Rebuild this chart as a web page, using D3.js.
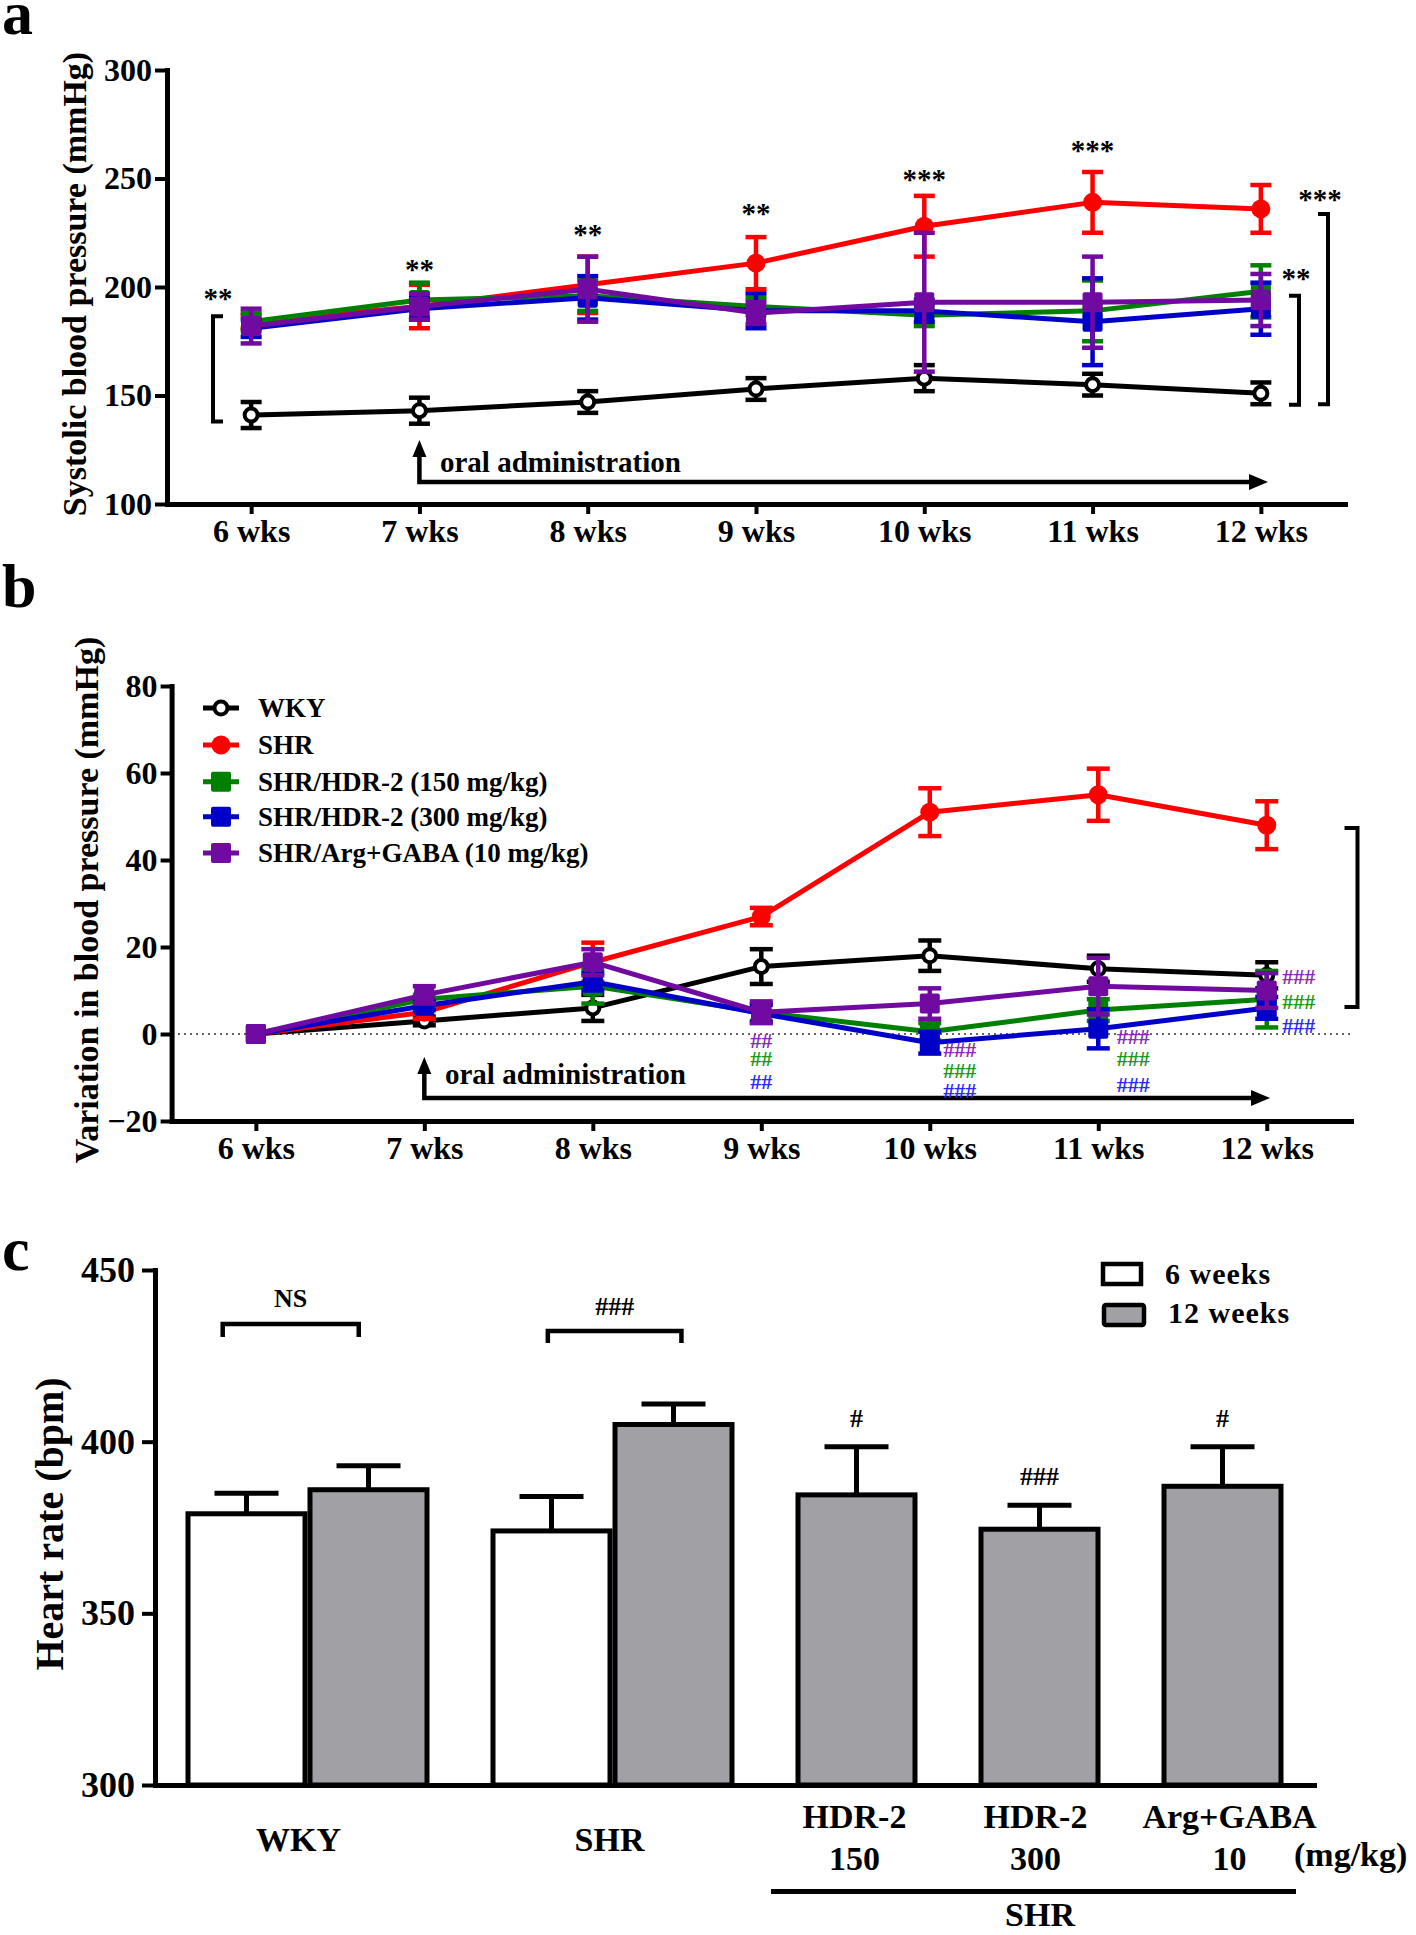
<!DOCTYPE html>
<html><head><meta charset="utf-8">
<script src="https://cdn.jsdelivr.net/npm/d3@7"></script>
<style>
body{margin:0;background:#fff}
svg{display:block}
text{font-family:"Liberation Serif","Times New Roman",serif;font-weight:bold;fill:#000}
</style>
</head><body><script>
// ---------------- DATA ----------------
const weeks = ["6 wks","7 wks","8 wks","9 wks","10 wks","11 wks","12 wks"];
const seriesNames = ["WKY","SHR","SHR/HDR-2 (150 mg/kg)","SHR/HDR-2 (300 mg/kg)","SHR/Arg+GABA (10 mg/kg)"];
const seriesColors = ["#000000","#ff0000","#008000","#0000c8","#700aa0"];
const seriesMarkers = ["open","circle","square","square","square"];

// Panel a: systolic blood pressure (mmHg)
const sbpWKY     = [141,143,147,153,158,155,151];
const sbpWKYErr  = [6,6,5,5,6,5,5];
const sbpSHR     = [184,191,201,211,228,239,236];
const sbpSHRErr  = [3,10,13,12,14,14,11];
const sbp150     = [184,194,196,191,187,189,198];
const sbp150Err  = [4,8,7,4,5,14,12];
const sbp300     = [181,190,195,189,189,184,190];
const sbp300Err  = [4,5,10,8,5,20,12];
const sbpArg     = [182,191,199,188,193,193,194];
const sbpArgErr  = [8,6,15,5,32,21,12];
const sbpTicks   = [100,150,200,250,300];
const sbpSig     = ["**","**","**","**","***","***"];   // 6..11 wks
const sbpSigY    = [196.5,209.7,225.8,235.5,251.2,264.5];

// Panel b: variation in blood pressure (mmHg)
const varWKY     = [0,3,6,15.5,18,15,13.5];
const varWKYErr  = [0,1,3,4,3.5,3,3];
const varSHR     = [0,5,16.5,27,51,55,48];
const varSHRErr  = [0,1.5,4.5,2,5.5,6,5.5];
const var150     = [0,8,11,5,0.5,5.5,8];
const var150Err  = [0,1,4,2,2,2.5,6.5];
const var300     = [0,6.5,12,4.7,-2,1.2,6];
const var300Err  = [0,1,2,2,2.5,4.5,2.5];
const varArg     = [0,9,16.5,5,7,11,10];
const varArgErr  = [0,2,3,2.5,3.5,6.5,4];
const varTicks   = [-20,0,20,40,60,80];
// hash marks (weeks 9..12) for Arg+GABA, 150, 300
const hashLabels = ["##","###","###","###"];
const hashYArg   = [-1.6,-3.7,-0.6,13.1];
const hashY150   = [-5.7,-8.5,-5.8,7.4];
const hashY300   = [-11,-13.1,-11.7,1.8];

// Panel c: heart rate (bpm)
const hrGroups   = [["WKY"],["SHR"],["HDR-2","150"],["HDR-2","300"],["Arg+GABA","10"]];
const hr6        = [379,374,null,null,null];
const hr6Err     = [6,10,null,null,null];
const hr12       = [386,405,384.5,374.5,387];
const hr12Err    = [7,6,14,7,11.5];
const hrSig      = ["NS","###","#","###","#"];
const hrTicks    = [300,350,400,450];
const hrLegend   = ["6 weeks","12 weeks"];

// ---------------- SETUP ----------------
const FONT = '"Liberation Serif","Times New Roman",serif';
const svg = d3.select("body").append("svg").attr("width",1416).attr("height",1935);
svg.append("rect").attr("width",1416).attr("height",1935).attr("fill","#fff");

function styleAxis(g, fs){
  g.attr("font-family",FONT).attr("font-size",fs).attr("font-weight","bold");
  g.select(".domain").attr("stroke","#000").attr("stroke-width",5).attr("stroke-linecap","square");
  g.selectAll(".tick line").attr("stroke","#000").attr("stroke-width",4);
  g.selectAll(".tick text").attr("fill","#000");
}

function drawSeries(g, x, y, vals, errs, color, marker, capW){
  const pts = weeks.map((w,i)=>({w, v:vals[i], e:errs[i]}));
  g.append("path").datum(pts)
    .attr("fill","none").attr("stroke",color).attr("stroke-width",5).attr("stroke-linejoin","round")
    .attr("d", d3.line().x(d=>x(d.w)).y(d=>y(d.v)));
  const eb = g.append("g").attr("stroke",color).attr("stroke-width",4.5);
  pts.filter(d=>d.e>0).forEach(d=>{
    eb.append("line").attr("x1",x(d.w)).attr("x2",x(d.w)).attr("y1",y(d.v-d.e)).attr("y2",y(d.v+d.e));
    [d.v-d.e,d.v+d.e].forEach(vv=>eb.append("line").attr("x1",x(d.w)-capW/2).attr("x2",x(d.w)+capW/2).attr("y1",y(vv)).attr("y2",y(vv)));
  });
  pts.forEach(d=>drawMarker(g, x(d.w), y(d.v), color, marker));
}
function drawMarker(g, cx, cy, color, marker){
  if(marker==="open") g.append("circle").attr("cx",cx).attr("cy",cy).attr("r",6.5).attr("fill","#fff").attr("stroke",color).attr("stroke-width",4);
  else if(marker==="circle") g.append("circle").attr("cx",cx).attr("cy",cy).attr("r",9.5).attr("fill",color);
  else g.append("rect").attr("x",cx-10).attr("y",cy-10).attr("width",20).attr("height",20).attr("rx",2).attr("fill",color);
}
function arrowHead(g, x, y, dir){
  const p = dir==="up" ? [[x,y],[x-7,y+17],[x+7,y+17]] : [[x,y],[x-19,y-8],[x-19,y+8]];
  g.append("path").attr("d","M"+p.map(q=>q.join(",")).join("L")+"Z").attr("fill","#000");
}
function bracket(g, x, y1, y2, tick){
  g.append("path").attr("d",`M${x+tick},${y1}H${x}V${y2}H${x+tick}`)
    .attr("fill","none").attr("stroke","#000").attr("stroke-width",4);
}

// ---------------- PANEL A ----------------
const gA = svg.append("g");
const xA = d3.scalePoint().domain(weeks).range([167,1345]).padding(0.5);
const yA = d3.scaleLinear().domain([100,300]).range([504,70]);
gA.append("text").attr("x",2).attr("y",34).attr("font-size",62).text("a");
gA.append("g").attr("transform","translate(167,0)")
  .call(d3.axisLeft(yA).tickValues(sbpTicks).tickSize(12).tickSizeOuter(0).tickPadding(3))
  .call(g=>styleAxis(g,32));
gA.append("g").attr("transform","translate(0,504)")
  .call(d3.axisBottom(xA).tickSize(10).tickSizeOuter(0).tickPadding(5))
  .call(g=>styleAxis(g,32));
gA.append("text").attr("transform","translate(86,284) rotate(-90)").attr("text-anchor","middle")
  .attr("font-size",34).text("Systolic blood pressure (mmHg)");

gA.append("path").attr("d",`M${xA("7 wks")},450V482H1250`).attr("fill","none").attr("stroke","#000").attr("stroke-width",4.5);
arrowHead(gA, xA("7 wks"), 440, "up");
arrowHead(gA, 1268, 482, "right");
gA.append("text").attr("x",440).attr("y",472).attr("font-size",29).text("oral administration");

const sbpSets = [[sbpWKY,sbpWKYErr],[sbpSHR,sbpSHRErr],[sbp150,sbp150Err],[sbp300,sbp300Err],[sbpArg,sbpArgErr]];
sbpSets.forEach((s,i)=>drawSeries(gA, xA, yA, s[0], s[1], seriesColors[i], seriesMarkers[i], 21));

sbpSig.forEach((t,i)=>{
  const xx = i===0 ? 218 : xA(weeks[i]);
  gA.append("text").attr("x",xx).attr("y",yA(sbpSigY[i])+13).attr("text-anchor","middle")
    .attr("font-size",29).attr("font-weight","normal").text(t);
});
bracket(gA, 213, yA(186.5), yA(138), 10);
bracket(gA, 1299, yA(196), yA(145.7), -10);
bracket(gA, 1328, yA(233.6), yA(146), -10);
gA.append("text").attr("x",1296).attr("y",275+13).attr("text-anchor","middle").attr("font-size",29).attr("font-weight","normal").text("**");
gA.append("text").attr("x",1320).attr("y",196+13).attr("text-anchor","middle").attr("font-size",29).attr("font-weight","normal").text("***");

// ---------------- PANEL B ----------------
const gB = svg.append("g");
const xB = d3.scalePoint().domain(weeks).range([171.6,1351]).padding(0.5);
const yB = d3.scaleLinear().domain([-20,80]).range([1121,686]);
gB.append("text").attr("x",2).attr("y",607).attr("font-size",62).text("b");
gB.append("line").attr("x1",172).attr("x2",1351).attr("y1",yB(0)).attr("y2",yB(0))
  .attr("stroke","#333").attr("stroke-width",1.6).attr("stroke-dasharray","2,4");
gB.append("g").attr("transform","translate(171.6,0)")
  .call(d3.axisLeft(yB).tickValues(varTicks).tickSize(11).tickSizeOuter(0).tickPadding(3))
  .call(g=>styleAxis(g,32));
gB.append("g").attr("transform","translate(0,1121)")
  .call(d3.axisBottom(xB).tickSize(10).tickSizeOuter(0).tickPadding(5))
  .call(g=>styleAxis(g,32));
gB.append("text").attr("transform","translate(98,900) rotate(-90)").attr("text-anchor","middle")
  .attr("font-size",34).text("Variation in blood pressure (mmHg)");

gB.append("path").attr("d",`M${xB("7 wks")},1067V1098H1252`).attr("fill","none").attr("stroke","#000").attr("stroke-width",4.5);
arrowHead(gB, xB("7 wks"), 1057, "up");
arrowHead(gB, 1270, 1098, "right");
gB.append("text").attr("x",445).attr("y",1084).attr("font-size",29).text("oral administration");

const varSets = [[varWKY,varWKYErr],[varSHR,varSHRErr],[var150,var150Err],[var300,var300Err],[varArg,varArgErr]];
varSets.forEach((s,i)=>drawSeries(gB, xB, yB, s[0], s[1], seriesColors[i], seriesMarkers[i], 23));

const hashOffsets = [0,30,35,32];
[[hashYArg,"#8a2ab8"],[hashY150,"#1a9a1a"],[hashY300,"#2a2aff"]].forEach(([arr,col])=>{
  arr.forEach((v,j)=>{
    gB.append("text").attr("x",xB(weeks[j+3])+hashOffsets[j]).attr("y",yB(v)+7)
      .attr("text-anchor","middle").attr("font-size",22).attr("font-weight","normal")
      .style("fill",col).text(hashLabels[j]);
  });
});
bracket(gB, 1357.5, 828, 1007, -13);

const legY = [708,745,781.7,816.7,853];
seriesNames.forEach((n,i)=>{
  gB.append("line").attr("x1",203).attr("x2",239).attr("y1",legY[i]).attr("y2",legY[i])
    .attr("stroke",seriesColors[i]).attr("stroke-width",5);
  drawMarker(gB, 221, legY[i], seriesColors[i], seriesMarkers[i]);
  gB.append("text").attr("x",258).attr("y",legY[i]+9).attr("font-size",27).text(n);
});

// ---------------- PANEL C ----------------
const gC = svg.append("g");
const yC = d3.scaleLinear().domain([300,450]).range([1785,1270]);
const xC = d3.scaleLinear().domain([-0.5,18.5]).range([155,1314]);
gC.append("text").attr("x",2).attr("y",1270).attr("font-size",62).text("c");

const bars = [];
let u = 0;
hrGroups.forEach((gname,i)=>{
  const start = u;
  if(hr6[i]!=null){ bars.push({g:i,s:0,v:hr6[i],e:hr6Err[i],x0:u}); u+=2; }
  bars.push({g:i,s:1,v:hr12[i],e:hr12Err[i],x0:u}); u+=2;
  hrGroups[i].center = (start+u)/2;
  u+=1;
});
const barG = gC.append("g");
bars.forEach(b=>{
  const x0 = xC(b.x0), x1 = xC(b.x0+2), cx=(x0+x1)/2;
  barG.append("line").attr("x1",cx).attr("x2",cx).attr("y1",yC(b.v)).attr("y2",yC(b.v+b.e)).attr("stroke","#000").attr("stroke-width",5);
  barG.append("line").attr("x1",cx-32).attr("x2",cx+32).attr("y1",yC(b.v+b.e)).attr("y2",yC(b.v+b.e)).attr("stroke","#000").attr("stroke-width",5);
  barG.append("rect").attr("x",x0+2.5).attr("y",yC(b.v)).attr("width",x1-x0-5).attr("height",yC(300)-yC(b.v))
    .attr("fill", b.s===0 ? "#ffffff" : "#a1a1a5").attr("stroke","#000").attr("stroke-width",5);
});
gC.append("g").attr("transform","translate(155,0)")
  .call(d3.axisLeft(yC).tickValues(hrTicks).tickSize(13).tickSizeOuter(0).tickPadding(7))
  .call(g=>styleAxis(g,36));
gC.append("g").attr("transform","translate(0,1785)")
  .call(d3.axisBottom(xC).tickValues([]).tickSizeOuter(0))
  .call(g=>styleAxis(g,32));
gC.append("text").attr("transform","translate(63,1524) rotate(-90)").attr("text-anchor","middle")
  .attr("font-size",40).text("Heart rate (bpm)");

const labOff = [-9,-3,-2,-4,7];
hrGroups.forEach((lines,i)=>{
  const cx = xC(lines.center)+labOff[i];
  if(lines.length===1){
    gC.append("text").attr("x",cx).attr("y",1851).attr("text-anchor","middle").attr("font-size",34).text(lines[0]);
  } else {
    gC.append("text").attr("x",cx).attr("y",1828).attr("text-anchor","middle").attr("font-size",34).text(lines[0]);
    gC.append("text").attr("x",cx).attr("y",1870).attr("text-anchor","middle").attr("font-size",34).text(lines[1]);
  }
});
gC.append("text").attr("x",1294).attr("y",1866).attr("font-size",34).text("(mg/kg)");
gC.append("line").attr("x1",771).attr("x2",1296).attr("y1",1891.5).attr("y2",1891.5).attr("stroke","#000").attr("stroke-width",5);
gC.append("text").attr("x",1040).attr("y",1926).attr("text-anchor","middle").attr("font-size",34).text("SHR");

function hbracket(g,x1,x2,y,drop){
  g.append("path").attr("d",`M${x1},${y+drop}V${y}H${x2}V${y+drop}`).attr("fill","none").attr("stroke","#000").attr("stroke-width",4.5);
}
hbracket(gC, xC(0.61), xC(2.84), 1324, 13);
hbracket(gC, xC(5.94), xC(8.13), 1331, 12);
gC.append("text").attr("x",(xC(0.61)+xC(2.84))/2).attr("y",1307).attr("text-anchor","middle").attr("font-size",26).text(hrSig[0]);
gC.append("text").attr("x",(xC(5.94)+xC(8.13))/2).attr("y",1315).attr("text-anchor","middle").attr("font-size",26).attr("font-weight","normal").text(hrSig[1]);
bars.filter(b=>b.g>=2).forEach(b=>{
  gC.append("text").attr("x",xC(b.x0+1)).attr("y",yC(b.v+b.e)-20).attr("text-anchor","middle")
    .attr("font-size",26).attr("font-weight","normal").text(hrSig[b.g]);
});

gC.append("rect").attr("x",1103).attr("y",1264).attr("width",38).attr("height",20).attr("fill","#fff").attr("stroke","#000").attr("stroke-width",4.5);
gC.append("rect").attr("x",1104).attr("y",1305).attr("width",40).attr("height",20).attr("rx",2).attr("fill","#a1a1a5").attr("stroke","#000").attr("stroke-width",4.5);
gC.append("text").attr("x",1165).attr("y",1284).attr("font-size",30).attr("letter-spacing",1).text(hrLegend[0]);
gC.append("text").attr("x",1168).attr("y",1323).attr("font-size",30).attr("letter-spacing",1).text(hrLegend[1]);
</script></body></html>
